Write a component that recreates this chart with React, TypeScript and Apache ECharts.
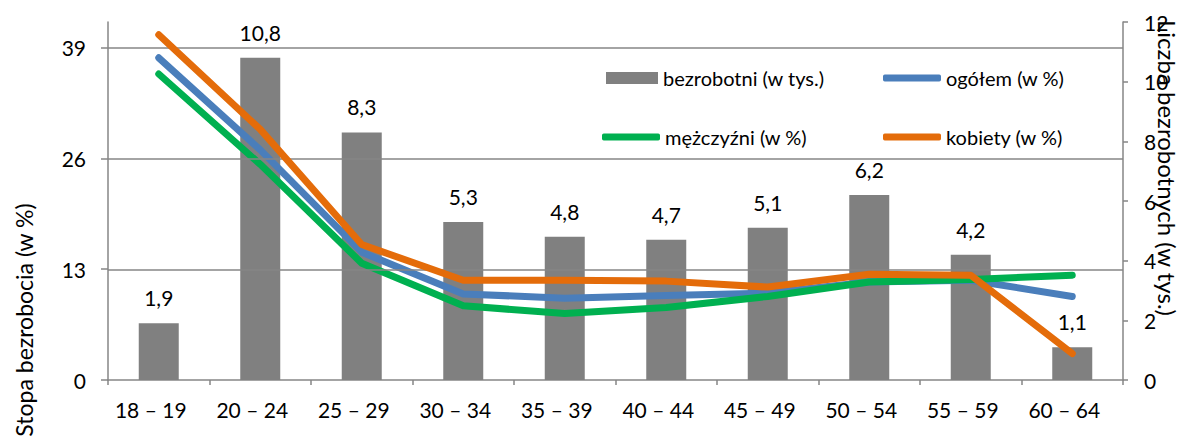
import React, { useEffect, useRef } from "react";
import * as echarts from "echarts";

const categories = ["18 – 19", "20 – 24", "25 – 29", "30 – 34", "35 – 39", "40 – 44", "45 – 49", "50 – 54", "55 – 59", "60 – 64"];
const bezrobotni = [1.9, 10.8, 8.3, 5.3, 4.8, 4.7, 5.1, 6.2, 4.2, 1.1];
const ogolem = [37.8, 27.0, 15.0, 10.1, 9.6, 9.9, 10.2, 11.5, 11.7, 9.8];
const mezczyzni = [35.9, 25.3, 13.7, 8.7, 7.8, 8.5, 9.8, 11.5, 11.8, 12.3];
const kobiety = [40.5, 29.4, 15.9, 11.7, 11.7, 11.6, 10.9, 12.4, 12.3, 3.1];
const leftTicks = [0, 13, 26, 39];

const FONT = "Lato";
const AXIS_COLOR = "#868686";

export default function App() {
  const ref = useRef<HTMLDivElement>(null);
  useEffect(() => {
    const chart = echarts.init(ref.current!, null, { renderer: "svg" });
    const textStyle = { fontFamily: FONT, fontSize: 21, color: "#000" };
    const legendText = { fontFamily: FONT, fontSize: 20, color: "#000" };
    const lineSeries = (name: string, data: number[], color: string, z: number) => ({
      name,
      type: "line",
      yAxisIndex: 0,
      data,
      symbol: "none",
      z,
      lineStyle: { width: 7, color, cap: "round", join: "round" },
      itemStyle: { color },
    });
    chart.setOption({
      animation: false,
      textStyle: { fontFamily: FONT },
      grid: { left: 108, right: 59, top: 22, bottom: 65 },
      legend: [
        { data: ["bezrobotni (w tys.)"], left: 606, top: 68, padding: 0, icon: "rect", itemWidth: 52, itemHeight: 12, textStyle: legendText },
        { data: ["ogółem (w %)"], left: 883, top: 68, padding: 0, icon: "roundRect", itemWidth: 58, itemHeight: 7, textStyle: legendText },
        { data: ["mężczyźni (w %)"], left: 602, top: 127, padding: 0, icon: "roundRect", itemWidth: 58, itemHeight: 7, textStyle: legendText },
        { data: ["kobiety (w %)"], left: 883, top: 127, padding: 0, icon: "roundRect", itemWidth: 58, itemHeight: 7, textStyle: legendText },
      ],
      xAxis: {
        type: "category",
        data: categories,
        boundaryGap: true,
        axisLine: { lineStyle: { color: AXIS_COLOR, width: 1.5 } },
        axisTick: { show: true, length: 5, lineStyle: { color: AXIS_COLOR, width: 1.5 } },
        axisLabel: { ...textStyle, margin: 19, padding: [0, 16, 0, 0] },
      },
      yAxis: [
        {
          type: "value",
          min: 0,
          max: 42,
          interval: 13,
          axisLine: { show: true, lineStyle: { color: AXIS_COLOR, width: 1.5 } },
          axisTick: { show: true, length: 7, customValues: leftTicks, lineStyle: { color: AXIS_COLOR, width: 1.5 } },
          axisLabel: { ...textStyle, margin: 22, customValues: leftTicks },
          splitLine: { show: false },
        },
        {
          type: "value",
          min: 0,
          max: 12,
          interval: 2,
          position: "right",
          axisLine: { show: true, lineStyle: { color: AXIS_COLOR, width: 1.5 } },
          axisTick: { show: true, length: 5, lineStyle: { color: AXIS_COLOR, width: 1.5 } },
          axisLabel: { ...textStyle, margin: 21 },
          splitLine: { show: false },
        },
      ],
      series: [
        {
          name: "bezrobotni (w tys.)",
          type: "bar",
          yAxisIndex: 1,
          data: bezrobotni,
          barWidth: 40,
          itemStyle: { color: "#808080" },
          label: {
            show: true,
            position: "top",
            distance: 15,
            ...textStyle,
            formatter: (p: any) => String(p.value).replace(".", ","),
          },
          markLine: {
            silent: true,
            symbol: "none",
            label: { show: false },
            lineStyle: { color: AXIS_COLOR, type: "solid", width: 1.5 },
            data: leftTicks.slice(1).map((v) => ({ yAxis: (v / 42) * 12 })),
          },
        },
        lineSeries("ogółem (w %)", ogolem, "#4a7ebb", 3),
        lineSeries("mężczyźni (w %)", mezczyzni, "#00b050", 4),
        lineSeries("kobiety (w %)", kobiety, "#e46c0a", 5),
      ],
      graphic: [
        {
          type: "text",
          x: 24,
          y: 320,
          rotation: Math.PI / 2,
          style: { text: "Stopa bezrobocia (w %)", font: `23px ${FONT}`, fill: "#000", align: "center", verticalAlign: "middle" },
        },
        {
          type: "text",
          x: 1167,
          y: 168,
          rotation: -Math.PI / 2,
          style: { text: "Liczba bezrobotnych (w tys.)", font: `24px ${FONT}`, fill: "#000", align: "center", verticalAlign: "middle" },
        },
      ],
    });
    return () => chart.dispose();
  }, []);
  return <div ref={ref} style={{ width: 1182, height: 445, position: "absolute", left: 0, top: 0 }} />;
}
